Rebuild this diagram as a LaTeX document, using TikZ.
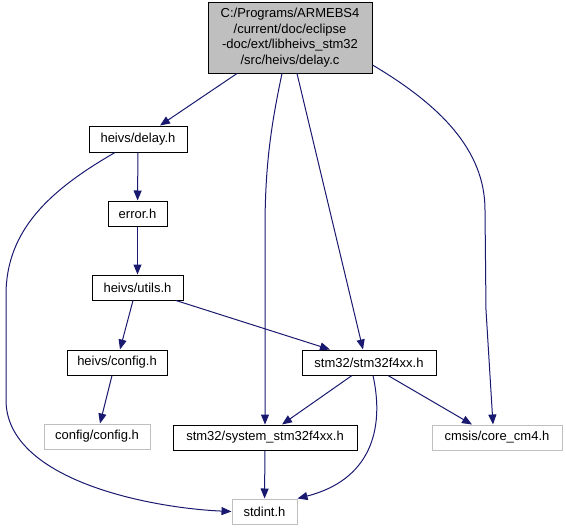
\documentclass[tikz,border=0pt]{standalone}
\usepackage{fontspec}
\setmainfont{Liberation Sans}
\usetikzlibrary{arrows.meta}
\definecolor{edgec}{HTML}{191970}
\definecolor{topfill}{HTML}{BFBFBF}
\definecolor{greyb}{HTML}{BFBFBF}
\tikzset{
  filebox/.style={draw=black, line width=1pt, fill=white, inner sep=0pt, font=\fontsize{13}{15.5}\selectfont},
  extbox/.style={draw=greyb, line width=1pt, fill=white, inner sep=0pt, font=\fontsize{13}{15.5}\selectfont},
  dep/.style={draw=edgec, line width=1pt, -{Triangle[length=10pt,width=8pt]}, fill=none},
}
\begin{document}
\begin{tikzpicture}[x=1pt,y=-1pt]
\useasboundingbox (0,0) rectangle (566,531);
\node[filebox, fill=topfill, minimum width=164pt, minimum height=71pt, align=center] (top) at (290,37.5)
  {C:/Programs/ARMEBS4\\/current/doc/eclipse\\-doc/ext/libheivs\_stm32\\/src/heivs/delay.c};
\node[filebox, minimum width=98pt, minimum height=26pt] (delay) at (138,139) {heivs/delay.h};
\node[filebox, minimum width=59pt, minimum height=25pt] (error) at (137.5,213.5) {error.h};
\node[filebox, minimum width=91pt, minimum height=25pt] (utils) at (137.5,287.5) {heivs/utils.h};
\node[filebox, minimum width=100pt, minimum height=25pt] (config) at (117,362.5) {heivs/config.h};
\node[extbox, minimum width=106pt, minimum height=25pt] (cfgcfg) at (97,436.5) {config/config.h};
\node[filebox, minimum width=134pt, minimum height=25pt] (f4xx) at (369,362.5) {stm32/stm32f4xx.h};
\node[filebox, minimum width=184pt, minimum height=25pt] (system) at (265,437.5) {stm32/system\_stm32f4xx.h};
\node[extbox, minimum width=130pt, minimum height=25pt] (core) at (497,437.5) {cmsis/core\_cm4.h};
\node[extbox, minimum width=65pt, minimum height=25pt] (stdint) at (264.5,511.5) {stdint.h};

\draw[dep] (top.south -| 237,0) -- (delay.north -| 160,0);
\draw[dep] (top.south -| 297,0) -- (f4xx.north -| 363,0);
\draw[dep] (top.south -| 282,0) .. controls (270,130) and (265,170) .. (265,230) -- (system.north -| 265,0);
\draw[dep] (top.east |- 0,65) .. controls (440,105) and (485,150) .. (485,210) -- (486,310) -- (core.north -| 493,0);
\draw[dep] (delay) -- (error);
\draw[dep] (error) -- (utils);
\draw[dep] (delay.south -| 115,0) .. controls (50,190) and (6,230) .. (6,295) -- (6,400) .. controls (6,480) and (150,508) .. (stdint.west);
\draw[dep] (utils.south -| 133,0) -- (config.north -| 120,0);
\draw[dep] (utils.south -| 176,0) -- (f4xx.north -| 330,0);
\draw[dep] (config.south -| 112,0) -- (cfgcfg.north -| 100,0);
\draw[dep] (f4xx.south -| 352,0) -- (system.north -| 282,0);
\draw[dep] (f4xx.south -| 388,0) -- (core.north -| 472,0);
\draw[dep] (f4xx.south -| 373,0) .. controls (385,430) and (370,480) .. (stdint.north east);
\draw[dep] (system) -- (stdint);
\end{tikzpicture}
\end{document}
